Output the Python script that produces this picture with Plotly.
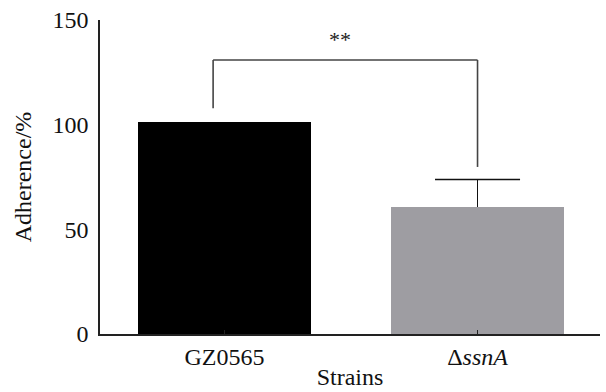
import plotly.graph_objects as go

categories = ["GZ0565", "Δ<i>ssnA</i>"]
values = [101.5, 60.7]
err_plus = [0, 13.1]
bar_colors = ["#000000", "#9e9da2"]
y_ticks = [0, 50, 100, 150]

# significance bracket (data coords)
bracket_left_x, bracket_right_x = -0.045, 1.0
bracket_top = 130.9
bracket_left_bottom = 107.8
bracket_right_bottom = 79.8
sig_label = "**"

font = "Liberation Serif, Times New Roman, serif"
x_pos = [0, 1]
cap_half = 0.168

fig = go.Figure()
fig.add_trace(go.Bar(
    x=x_pos, y=values, width=0.684,
    marker=dict(color=bar_colors, line=dict(width=0)),
    error_y=dict(type="data", array=err_plus, arrayminus=[0, 0], visible=True,
                 color="#111111", thickness=1.6, width=0),
))
# error-bar caps (upper only)
for xi, v, e in zip(x_pos, values, err_plus):
    if e > 0:
        fig.add_trace(go.Scatter(
            x=[xi - cap_half, xi + cap_half], y=[v + e, v + e], mode="lines",
            line=dict(color="#111111", width=1.6), hoverinfo="skip",
        ))

line_style = dict(color="#444444", width=1.6)
fig.add_shape(type="line", x0=bracket_left_x, x1=bracket_right_x, y0=bracket_top, y1=bracket_top, line=line_style)
fig.add_shape(type="line", x0=bracket_left_x, x1=bracket_left_x, y0=bracket_left_bottom, y1=bracket_top, line=line_style)
fig.add_shape(type="line", x0=bracket_right_x, x1=bracket_right_x, y0=bracket_right_bottom, y1=bracket_top, line=line_style)
fig.add_annotation(x=0.456, y=140.5, text=sig_label, showarrow=False,
                   font=dict(family=font, size=22, color="#222222"))

fig.update_layout(
    width=606, height=392,
    margin=dict(l=100, r=6, t=20, b=58, autoexpand=False),
    paper_bgcolor="white", plot_bgcolor="white",
    showlegend=False,
    font=dict(family=font, size=24, color="#111111"),
    bargap=0,
)
fig.update_xaxes(
    range=[-0.492, 1.484], tickvals=x_pos, ticktext=categories,
    showline=True, linecolor="#222222", linewidth=1.5,
    ticks="inside", ticklen=4, tickcolor="#222222",
    showgrid=False, zeroline=False, automargin=False,
    title=dict(text="Strains", standoff=0, font=dict(size=24)),
    tickfont=dict(size=24),
)
fig.update_yaxes(
    range=[0, 150], tickvals=y_ticks,
    showline=True, linecolor="#222222", linewidth=1.5,
    ticks="", showgrid=False, zeroline=False, automargin=False,
    ticklabelstandoff=5,
    title=dict(text="Adherence/%", standoff=14, font=dict(size=24)),
    tickfont=dict(size=24),
)

fig.write_html("out.html", config={"displayModeBar": False},
               post_script="document.body.style.margin='0';document.body.style.padding='0';")
